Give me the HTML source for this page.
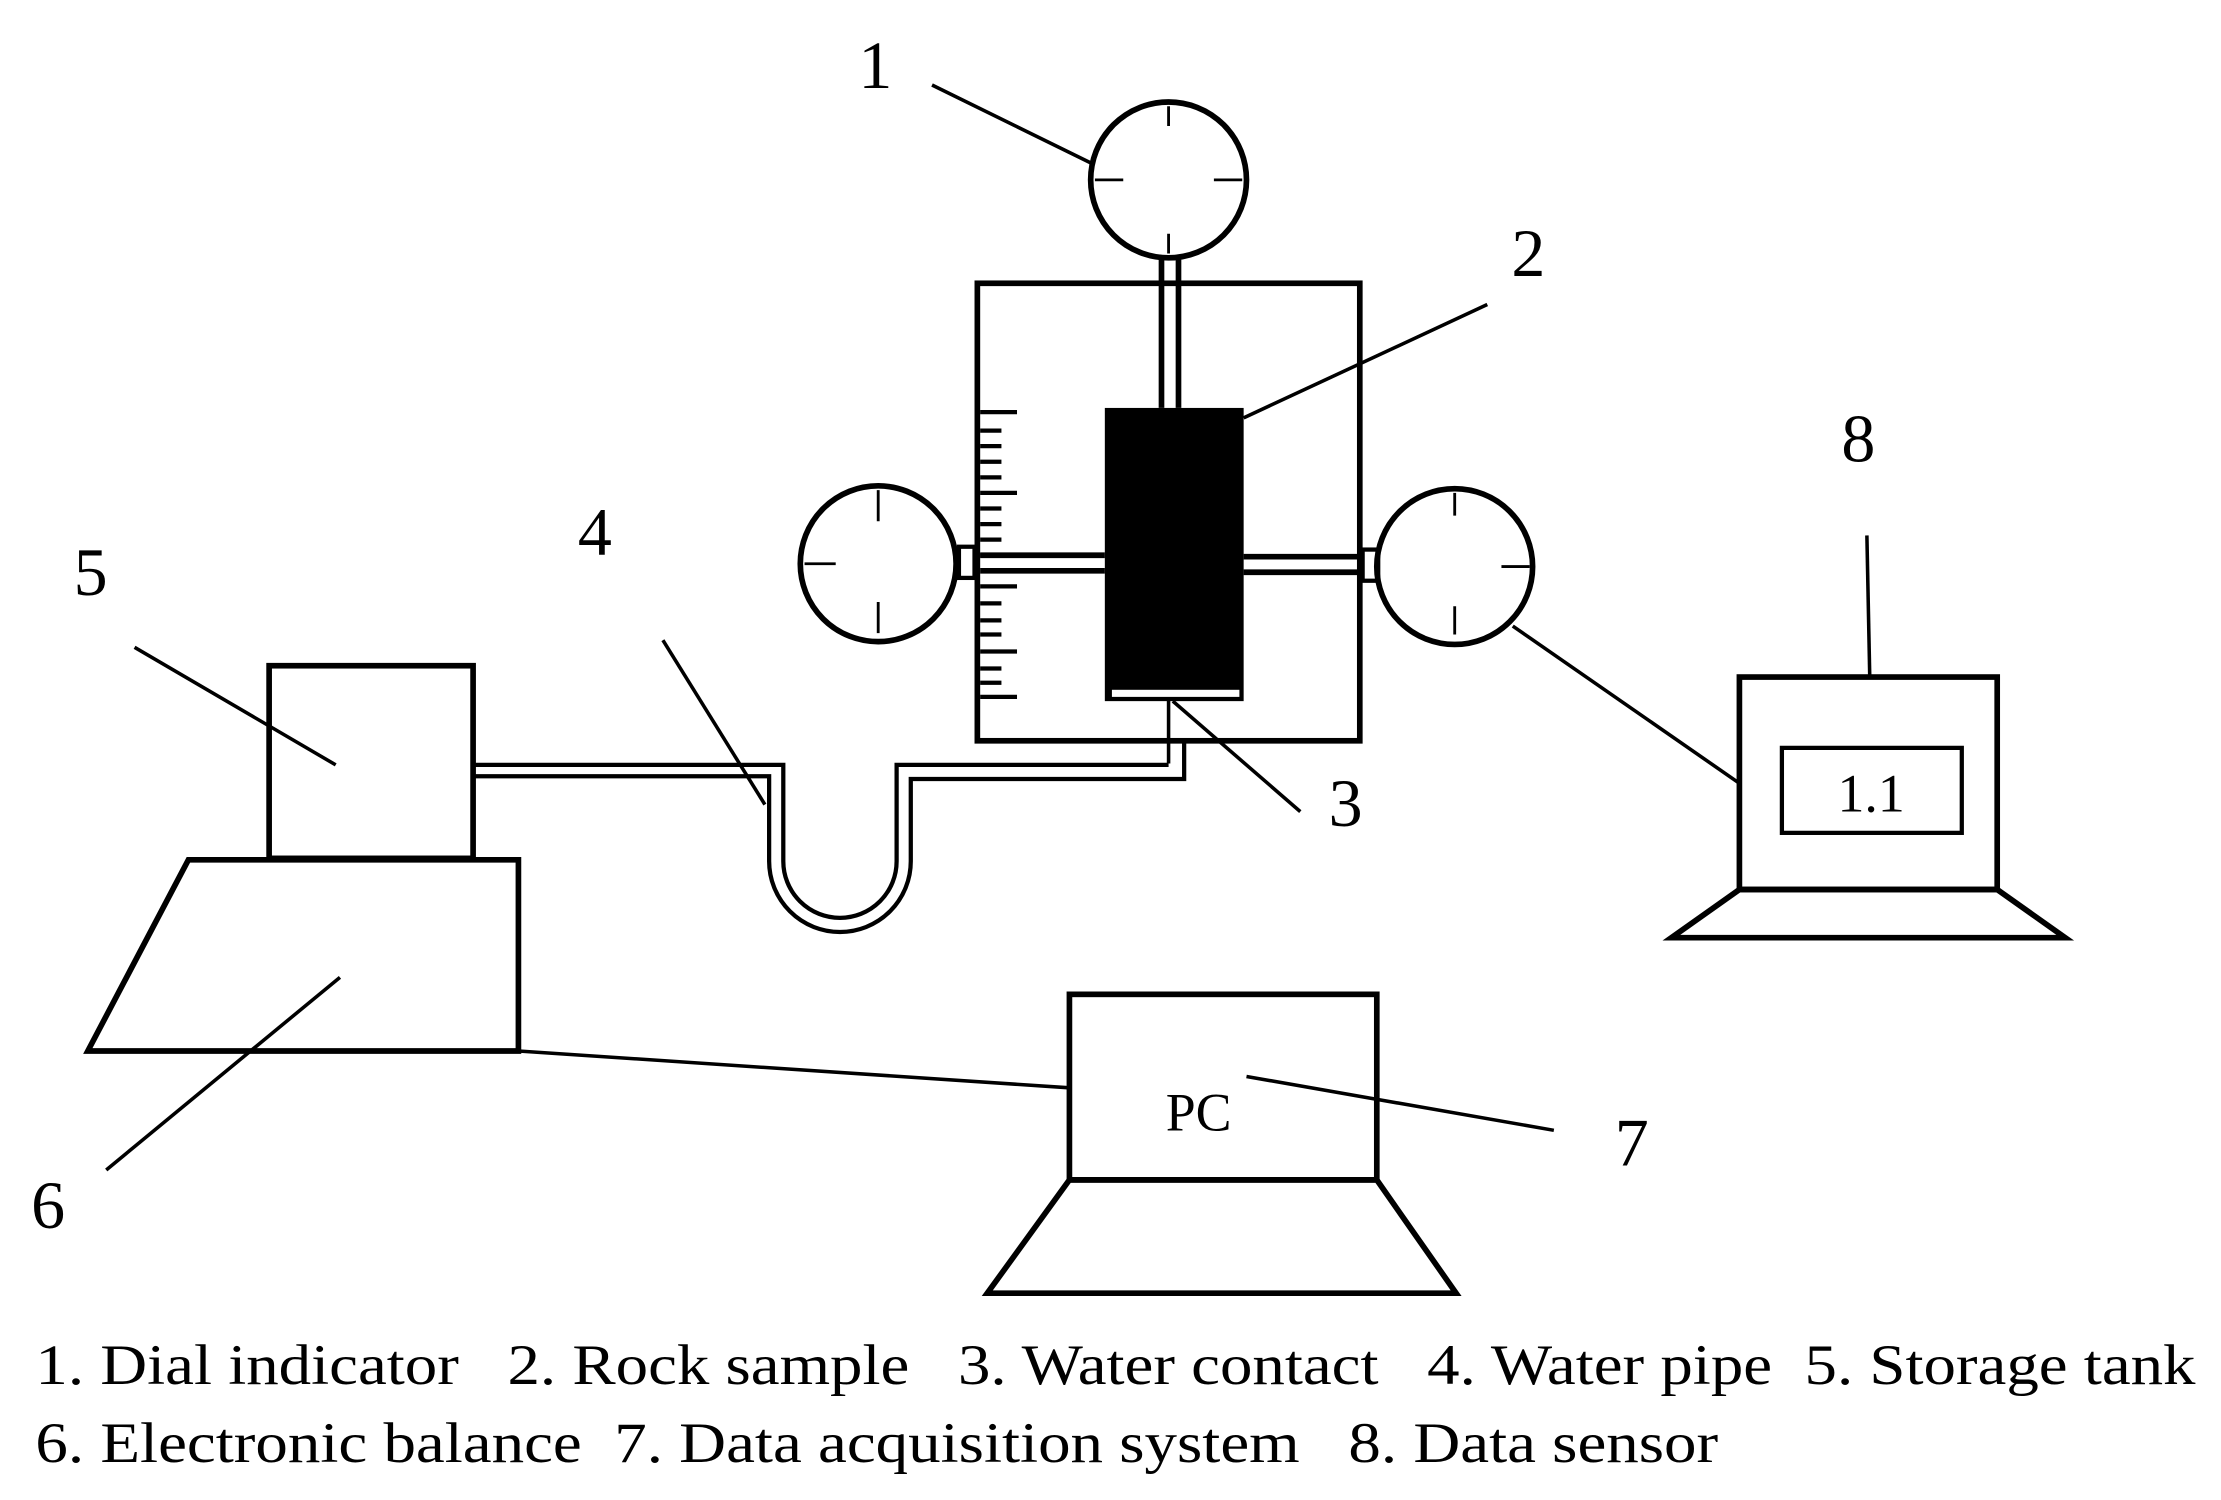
<!DOCTYPE html>
<html><head><meta charset="utf-8"><style>html,body{margin:0;padding:0;background:#fff}svg{display:block}</style></head>
<body>
<svg width="2221" height="1500" viewBox="0 0 1568 1059" preserveAspectRatio="none" xmlns="http://www.w3.org/2000/svg" font-family="Liberation Serif, serif">
<g fill="none" stroke="#000" stroke-width="4">
<circle cx="825" cy="127" r="55"/>
<path d="M825 75v14M825 165v14M773 127h20M857 127h20" stroke-width="2"/>
<path d="M820 182v106M832 182v106" stroke-width="4"/>
<rect x="690" y="200" width="270" height="323"/>
<circle cx="620" cy="398" r="55"/>
<path d="M620 346v22M620 425v22M568 398h22" stroke-width="2"/>
<rect x="677" y="386" width="11" height="22" stroke-width="3"/>
<path d="M692 392h88M692 403h88" stroke-width="4"/>
<circle cx="1027" cy="400" r="55"/>
<path d="M1027 348v16M1027 428v20M1060 400h20" stroke-width="2"/>
<rect x="962" y="388" width="11" height="22" stroke-width="3"/>
<path d="M878 393h85M878 404h85" stroke-width="4"/>
<path d="M825 493v46M836 523v18" stroke-width="2.5"/>
<path d="M334 540H553V608a40 40 0 0 0 80 0V540H825" stroke-width="3"/>
<path d="M334 548H543V608a50 50 0 0 0 100 0V550H836V523" stroke-width="3"/>
<rect x="190" y="470" width="144" height="136"/>
<path d="M133 607H366V742H62Z"/>
<rect x="1228" y="478" width="182" height="150"/>
<rect x="1258" y="528" width="127" height="60" stroke-width="3"/>
<path d="M1228 628H1410L1458 662H1180Z"/>
<rect x="755" y="702" width="217" height="131"/>
<path d="M755 833H972L1028 913H697Z"/>
<g stroke-width="2.5">
<path d="M658 60L770 115"/>
<path d="M878 295L1050 215"/>
<path d="M828 495L918 573"/>
<path d="M468 452L540 568"/>
<path d="M95 457L237 540"/>
<path d="M75 826L240 690"/>
<path d="M880 760L1097 798"/>
<path d="M1318 378L1320 477"/>
<path d="M1068 442L1228 553"/>
<path d="M366 742L755 768"/>
</g>
</g>
<g stroke="#000" stroke-width="3">
<path d="M692 291h26M692 304h15M692 315h15M692 326h15M692 337h15M692 348h26M692 359h15M692 370h15M692 381h15M692 392h26M692 414h26M692 426h15M692 438h15M692 448h15M692 460h26M692 472h15M692 482h15M692 492h26"/>
</g>
<rect x="780" y="288" width="98" height="207" fill="#000"/>
<rect x="785" y="487" width="90" height="5" fill="#fff"/>
<g font-size="48" fill="#000">
<text x="606" y="62">1</text>
<text x="1067" y="195">2</text>
<text x="938" y="583">3</text>
<text x="408" y="392">4</text>
<text x="52" y="420">5</text>
<text x="22" y="867">6</text>
<text x="1140" y="823">7</text>
<text x="1300" y="326">8</text>
</g>
<text x="1321" y="573" font-size="38" text-anchor="middle">1.1</text>
<text x="823" y="798" font-size="38">PC</text>
<g font-size="40" fill="#000">
<text x="25" y="977" textLength="1525" lengthAdjust="spacingAndGlyphs" xml:space="preserve">1. Dial indicator   2. Rock sample   3. Water contact   4. Water pipe  5. Storage tank</text>
<text x="25" y="1032" textLength="1188" lengthAdjust="spacingAndGlyphs" xml:space="preserve">6. Electronic balance  7. Data acquisition system   8. Data sensor</text>
</g>
</svg>
</body></html>
